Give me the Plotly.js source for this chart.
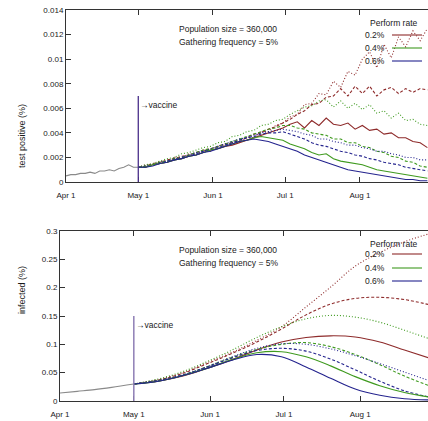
<!DOCTYPE html>
<html><head><meta charset="utf-8">
<script src="https://cdn.plot.ly/plotly-3.0.1.min.js"></script>
<style>html,body{margin:0;padding:0;background:#fff}</style>
</head><body><div id="chart" style="width:428px;height:421px"></div>
<script>
// ---------- DATA ----------
const preDates = ['2020-04-01','2020-04-03','2020-04-05','2020-04-07','2020-04-09','2020-04-11','2020-04-13','2020-04-15','2020-04-17','2020-04-19','2020-04-21','2020-04-23','2020-04-25','2020-04-27','2020-04-29','2020-05-01'];
const preTest = [0.0005,0.0006,0.0006,0.0007,0.0007,0.0008,0.0007,0.0009,0.0009,0.0010,0.0009,0.0011,0.0012,0.0014,0.0012,0.0012];

const testDates = ['2020-05-01','2020-05-04','2020-05-07','2020-05-10','2020-05-13','2020-05-16','2020-05-19','2020-05-22','2020-05-25','2020-05-28','2020-05-31','2020-06-03','2020-06-06','2020-06-09','2020-06-12','2020-06-15','2020-06-18','2020-06-21','2020-06-24','2020-06-27','2020-06-30','2020-07-03','2020-07-06','2020-07-09','2020-07-12','2020-07-15','2020-07-18','2020-07-21','2020-07-24','2020-07-27','2020-07-30','2020-08-02','2020-08-05','2020-08-08','2020-08-11','2020-08-14','2020-08-17','2020-08-20','2020-08-23','2020-08-26','2020-08-29'];
const testRedDot   = [0.0012,0.0014,0.0014,0.0017,0.0016,0.0020,0.0019,0.0023,0.0022,0.0026,0.0025,0.0029,0.0030,0.0032,0.0033,0.0036,0.0036,0.0041,0.0041,0.0046,0.0048,0.0053,0.0055,0.0063,0.0064,0.0072,0.0071,0.0082,0.0077,0.0090,0.0087,0.0100,0.0106,0.0093,0.0112,0.0101,0.0118,0.0110,0.0123,0.0115,0.0125];
const testRedDash  = [0.0012,0.0013,0.0015,0.0016,0.0018,0.0019,0.0021,0.0022,0.0024,0.0026,0.0027,0.0029,0.0031,0.0032,0.0034,0.0036,0.0039,0.0040,0.0043,0.0045,0.0048,0.0051,0.0055,0.0058,0.0063,0.0064,0.0069,0.0070,0.0076,0.0070,0.0078,0.0072,0.0078,0.0070,0.0075,0.0077,0.0072,0.0076,0.0073,0.0076,0.0075];
const testGreenDot = [0.0012,0.0014,0.0015,0.0017,0.0019,0.0020,0.0023,0.0024,0.0026,0.0028,0.0029,0.0032,0.0033,0.0037,0.0038,0.0041,0.0042,0.0046,0.0047,0.0050,0.0051,0.0055,0.0058,0.0061,0.0062,0.0066,0.0067,0.0061,0.0066,0.0060,0.0064,0.0059,0.0063,0.0056,0.0058,0.0052,0.0056,0.0050,0.0051,0.0047,0.0046];
const testRedSolid = [0.0012,0.0012,0.0014,0.0015,0.0016,0.0018,0.0019,0.0021,0.0022,0.0024,0.0026,0.0027,0.0029,0.0030,0.0032,0.0034,0.0036,0.0038,0.0040,0.0042,0.0044,0.0047,0.0049,0.0044,0.0050,0.0046,0.0052,0.0047,0.0046,0.0048,0.0043,0.0046,0.0042,0.0043,0.0039,0.0040,0.0036,0.0036,0.0033,0.0032,0.0028];
const testGreenDash= [0.0012,0.0013,0.0014,0.0016,0.0017,0.0019,0.0020,0.0022,0.0024,0.0026,0.0027,0.0029,0.0031,0.0033,0.0035,0.0037,0.0039,0.0041,0.0043,0.0044,0.0046,0.0046,0.0044,0.0043,0.0040,0.0039,0.0038,0.0035,0.0035,0.0032,0.0032,0.0029,0.0028,0.0025,0.0024,0.0021,0.0020,0.0017,0.0016,0.0013,0.0012];
const testBlueDot  = [0.0012,0.0013,0.0014,0.0016,0.0017,0.0019,0.0020,0.0022,0.0024,0.0025,0.0027,0.0029,0.0031,0.0033,0.0035,0.0036,0.0038,0.0040,0.0041,0.0042,0.0043,0.0042,0.0041,0.0039,0.0038,0.0035,0.0035,0.0033,0.0032,0.0030,0.0030,0.0028,0.0027,0.0025,0.0025,0.0023,0.0022,0.0020,0.0020,0.0018,0.0018];
const testBlueDash = [0.0012,0.0012,0.0014,0.0015,0.0017,0.0018,0.0020,0.0021,0.0023,0.0025,0.0026,0.0028,0.0030,0.0032,0.0034,0.0036,0.0037,0.0039,0.0040,0.0040,0.0041,0.0039,0.0037,0.0035,0.0032,0.0030,0.0029,0.0027,0.0025,0.0024,0.0022,0.0021,0.0019,0.0018,0.0016,0.0015,0.0014,0.0012,0.0011,0.0010,0.0009];
const testGreenSolid=[0.0012,0.0012,0.0014,0.0015,0.0016,0.0018,0.0019,0.0021,0.0022,0.0024,0.0026,0.0027,0.0029,0.0031,0.0033,0.0034,0.0036,0.0037,0.0036,0.0035,0.0034,0.0031,0.0029,0.0027,0.0024,0.0022,0.0023,0.0019,0.0017,0.0016,0.0015,0.0014,0.0012,0.0010,0.0009,0.0008,0.0007,0.0006,0.0005,0.0004,0.0003];
const testBlueSolid= [0.0012,0.0012,0.0013,0.0015,0.0016,0.0018,0.0019,0.0021,0.0022,0.0024,0.0025,0.0027,0.0029,0.0031,0.0033,0.0034,0.0035,0.0034,0.0033,0.0031,0.0029,0.0027,0.0025,0.0022,0.0020,0.0018,0.0016,0.0014,0.0012,0.0010,0.0009,0.0008,0.0007,0.0006,0.0005,0.0004,0.0003,0.0002,0.0002,0.0001,0.0001];

const preInfDates = ['2020-04-01','2020-04-08','2020-04-15','2020-04-22','2020-05-01'];
const preInf = [0.014,0.017,0.020,0.024,0.030];
const infDates = ['2020-05-01','2020-05-11','2020-05-21','2020-05-31','2020-06-10','2020-06-20','2020-06-30','2020-07-10','2020-07-20','2020-07-30','2020-08-09','2020-08-19','2020-08-29'];
const infRedDot    = [0.030,0.038,0.050,0.068,0.086,0.107,0.131,0.166,0.201,0.238,0.262,0.281,0.295];
const infRedDash   = [0.030,0.037,0.049,0.066,0.084,0.104,0.127,0.152,0.171,0.181,0.183,0.179,0.170];
const infGreenDot  = [0.030,0.039,0.052,0.070,0.090,0.112,0.131,0.145,0.151,0.148,0.139,0.125,0.110];
const infRedSolid  = [0.030,0.035,0.044,0.058,0.073,0.090,0.104,0.112,0.115,0.113,0.104,0.090,0.076];
const infGreenDash = [0.030,0.036,0.046,0.061,0.077,0.091,0.100,0.103,0.096,0.082,0.064,0.044,0.027];
const infBlueDot   = [0.030,0.036,0.046,0.061,0.078,0.093,0.101,0.100,0.092,0.080,0.066,0.051,0.036];
const infBlueDash  = [0.030,0.036,0.046,0.060,0.076,0.089,0.093,0.088,0.074,0.055,0.035,0.018,0.007];
const infGreenSolid= [0.030,0.035,0.045,0.058,0.073,0.085,0.087,0.078,0.062,0.043,0.027,0.015,0.007];
const infBlueSolid = [0.030,0.035,0.045,0.058,0.072,0.082,0.078,0.060,0.040,0.021,0.010,0.004,0.002];

const xTickVals = ['2020-04-01','2020-05-01','2020-06-01','2020-07-01','2020-08-01'];
const xTickText = ['Apr 1','May 1','Jun 1','Jul 1','Aug 1'];
const yTickVals1 = [0,0.002,0.004,0.006,0.008,0.01,0.012,0.014];
const yTickText1 = ['0','0.002','0.004','0.006','0.008','0.01','0.012','0.014'];
const yTickVals2 = [0,0.05,0.1,0.15,0.2,0.25,0.3];
const yTickText2 = ['0','0.05','0.1','0.15','0.2','0.25','0.3'];
const legendLabels = ['0.2%','0.4%','0.6%'];
const vaccineDate = '2020-05-01';
const vaccineTop = [0.007, 0.15];
const infoLines = ['Population size = 360,000','Gathering frequency = 5%'];

// ---------- STYLE ----------
const RED='#8e2b2b', GREEN='#3f9a1f', BLUE='#24238e';
const DOT='1px,2px', DASH='3px,2px';
const W=428,H=421;
const px = v=>v/W, py = v=>1-v/H;
const TXT='#1a1a1a';

function tr(x,y,color,dash,xa,ya,shape,width){
  return {x:x,y:y,type:'scatter',mode:'lines',xaxis:xa,yaxis:ya,hoverinfo:'skip',
    line:{color:color,width:width||1.1,dash:dash,shape:shape||'linear'}};
}
const traces = [
  tr(preDates,preTest,'#8a8a8a','solid','x','y'),
  tr(testDates,testRedDot,RED,DOT,'x','y'),
  tr(testDates,testRedDash,RED,DASH,'x','y'),
  tr(testDates,testGreenDot,GREEN,DOT,'x','y'),
  tr(testDates,testRedSolid,RED,'solid','x','y'),
  tr(testDates,testGreenDash,GREEN,DASH,'x','y'),
  tr(testDates,testBlueDot,BLUE,DOT,'x','y'),
  tr(testDates,testBlueDash,BLUE,DASH,'x','y'),
  tr(testDates,testGreenSolid,GREEN,'solid','x','y'),
  tr(testDates,testBlueSolid,BLUE,'solid','x','y'),
  tr(preInfDates,preInf,'#8a8a8a','solid','x2','y2','spline'),
  tr(infDates,infRedDot,RED,DOT,'x2','y2','spline'),
  tr(infDates,infRedDash,RED,DASH,'x2','y2','spline'),
  tr(infDates,infGreenDot,GREEN,DOT,'x2','y2','spline'),
  tr(infDates,infRedSolid,RED,'solid','x2','y2','spline'),
  tr(infDates,infGreenDash,GREEN,DASH,'x2','y2','spline'),
  tr(infDates,infBlueDot,BLUE,DOT,'x2','y2','spline'),
  tr(infDates,infBlueDash,BLUE,DASH,'x2','y2','spline'),
  tr(infDates,infGreenSolid,GREEN,'solid','x2','y2','spline'),
  tr(infDates,infBlueSolid,BLUE,'solid','x2','y2','spline')
];

const axX = (dom,rng,anchor)=>({domain:dom,range:rng,anchor:anchor,type:'date',tickvals:xTickVals,ticktext:xTickText,
  ticks:'inside',ticklen:5,tickcolor:'#333',showline:true,linecolor:'#333',linewidth:1,mirror:'ticks',
  ticklabelstandoff:5,showgrid:false,zeroline:false,tickfont:{size:8,color:TXT}});
const axY = (dom,rng,tv,tt,anchor)=>({domain:dom,range:rng,anchor:anchor,tickvals:tv,ticktext:tt,
  ticks:'inside',ticklen:5,tickcolor:'#333',showline:true,linecolor:'#333',linewidth:1,mirror:false,
  showgrid:false,zeroline:false,tickfont:{size:8,color:TXT}});

const shapes=[
  {type:'line',xref:'x',yref:'y',x0:vaccineDate,x1:vaccineDate,y0:0,y1:vaccineTop[0],line:{color:'#4a2f8a',width:1.3}},
  {type:'line',xref:'x2',yref:'y2',x0:vaccineDate,x1:vaccineDate,y0:0,y1:vaccineTop[1],line:{color:'#8f7fb5',width:1.5}}
];
const annotations=[];
const legColors=[RED,GREEN,BLUE];
[[23,35,48,61],[244,254,268,281]].forEach(g=>{
  annotations.push({xref:'paper',yref:'paper',x:px(394),y:py(g[0]),text:'Perform rate',showarrow:false,font:{size:8.5,color:TXT},xanchor:'center',yanchor:'middle'});
  for(let i=0;i<3;i++){
    annotations.push({xref:'paper',yref:'paper',x:px(387),y:py(g[i+1]),text:legendLabels[i],showarrow:false,font:{size:8.5,color:TXT},xanchor:'right',yanchor:'middle'});
    shapes.push({type:'line',xref:'paper',yref:'paper',x0:px(392),x1:px(422),y0:py(g[i+1]),y1:py(g[i+1]),line:{color:legColors[i],width:1.1}});
  }
});
[[29,42],[250,263]].forEach(g=>{
  infoLines.forEach((t,i)=>annotations.push({xref:'paper',yref:'paper',x:px(177),y:py(g[i]),text:t,showarrow:false,font:{size:8.5,color:TXT},xanchor:'left',yanchor:'middle'}));
});
annotations.push({xref:'x',yref:'y',x:vaccineDate,y:0.0063,text:'→vaccine',showarrow:false,xanchor:'left',yanchor:'middle',xshift:0,font:{size:8.5,color:TXT}});
annotations.push({xref:'x2',yref:'y2',x:vaccineDate,y:0.134,text:'→vaccine',showarrow:false,xanchor:'left',yanchor:'middle',xshift:0,font:{size:8.5,color:TXT}});
annotations.push({xref:'paper',yref:'paper',x:px(15),y:py(102),text:'test positive (%)',textangle:-90,showarrow:false,font:{size:9,color:TXT}});
annotations.push({xref:'paper',yref:'paper',x:px(15),y:py(316),text:'infected (%)',textangle:-90,showarrow:false,font:{size:9,color:TXT}});

const layout={
  width:W,height:H,margin:{l:0,r:0,t:0,b:0},paper_bgcolor:'#fff',plot_bgcolor:'#fff',showlegend:false,
  font:{family:'Liberation Sans, Arial, sans-serif',size:8,color:TXT},
  xaxis:axX([66/W,1],['2020-04-01','2020-08-29 06:00'],'y'),
  yaxis:axY([py(182),py(10)],[0,0.014],yTickVals1,yTickText1,'x'),
  xaxis2:axX([60/W,1],['2020-04-01','2020-08-28 14:00'],'y2'),
  yaxis2:axY([py(401),py(231)],[0,0.3],yTickVals2,yTickText2,'x2'),
  shapes:shapes,annotations:annotations
};
Plotly.newPlot('chart',traces,layout,{staticPlot:true,displayModeBar:false});
</script></body></html>
